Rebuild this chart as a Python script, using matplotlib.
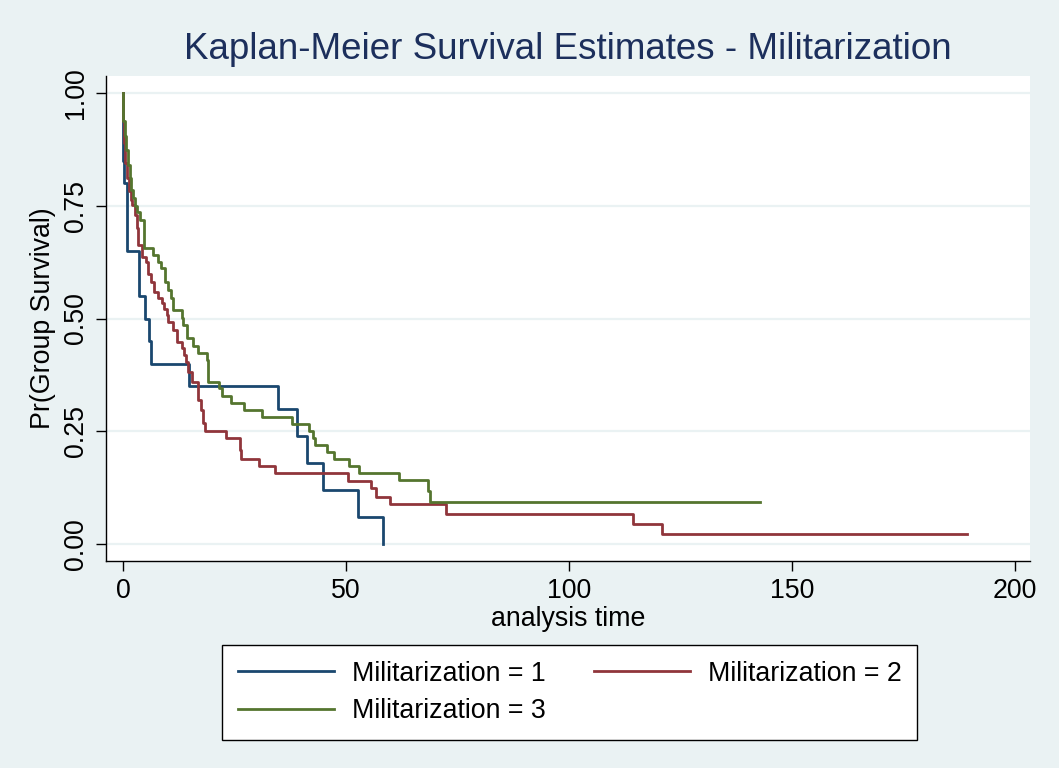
import matplotlib
matplotlib.use("Agg")
import matplotlib.pyplot as plt

# ---------------- data ----------------
title = "Kaplan-Meier Survival Estimates - Militarization"
x_label = "analysis time"
y_label = "Pr(Group Survival)"
x_ticks = [0, 50, 100, 150, 200]
y_ticks = [0.0, 0.25, 0.5, 0.75, 1.0]
y_ticklabels = ["0.00", "0.25", "0.50", "0.75", "1.00"]
labels = ["Militarization = 1", "Militarization = 2", "Militarization = 3"]

# group 1
t1 = [0, 0.1, 0.3, 0.8, 1.0, 3.65, 4.87, 5.76, 6.35, 14.7, 34.8, 39.1, 41.3, 44.8, 52.8, 58.4]
s1 = [1.0, 0.85, 0.80, 0.70, 0.65, 0.55, 0.50, 0.45, 0.40, 0.35, 0.30, 0.24, 0.18, 0.12, 0.06, 0.0]

# group 2
t2 = [0, 0.04, 0.22, 0.52, 0.90, 1.35, 1.86, 2.13, 2.69, 3.07, 3.43, 4.19, 5.16, 5.54, 6.21,
      7.02, 7.78, 8.74, 9.19, 9.80, 10.16, 11.28, 12.04, 13.16, 13.74, 14.19, 14.64, 15.40,
      16.75, 17.42, 18.00, 18.39, 23.09, 26.23, 26.46, 30.49, 34.08, 50.52, 55.54, 56.73,
      59.87, 72.42, 114.28, 120.92, 189.2]
s2 = [1.0, 0.938, 0.889, 0.845, 0.812, 0.783, 0.763, 0.752, 0.729, 0.701, 0.663, 0.636, 0.625,
      0.599, 0.581, 0.559, 0.545, 0.534, 0.521, 0.508, 0.492, 0.474, 0.448, 0.435, 0.419, 0.404,
      0.381, 0.359, 0.319, 0.297, 0.268, 0.251, 0.236, 0.208, 0.188, 0.173, 0.157, 0.140,
      0.1235, 0.105, 0.0876, 0.066, 0.0437, 0.0215, 0.0215]

# group 3
t3 = [0, 0.07, 0.52, 0.74, 1.12, 1.50, 1.86, 2.24, 2.62, 3.14, 3.81, 4.71, 6.79, 7.91, 8.41,
      9.42, 10.16, 10.70, 11.14, 13.16, 13.52, 14.42, 15.76, 16.88, 18.77, 19.13, 21.59, 22.13,
      24.15, 27.20, 31.23, 37.96, 41.77, 42.67, 43.05, 45.67, 47.38, 50.67, 52.91, 61.88,
      68.45, 68.83, 142.8]
s3 = [1.0, 0.938, 0.905, 0.874, 0.840, 0.812, 0.785, 0.767, 0.749, 0.736, 0.718, 0.656, 0.641,
      0.625, 0.612, 0.581, 0.563, 0.545, 0.518, 0.501, 0.486, 0.457, 0.439, 0.423, 0.408, 0.360,
      0.345, 0.329, 0.313, 0.297, 0.282, 0.267, 0.251, 0.234, 0.2195, 0.204, 0.188, 0.172,
      0.157, 0.142, 0.118, 0.094, 0.094]

colors = ["#1A476F", "#90353B", "#55752F"]
bg = "#EAF2F3"
title_color = "#1C2F5C"

plt.rcParams['font.family'] = ['Liberation Sans', 'DejaVu Sans']

W, H = 1059, 768
fig = plt.figure(figsize=(W / 100, H / 100), dpi=100, facecolor=bg)
ax = fig.add_axes([106 / W, 1 - 561 / H, (1030 - 106) / W, (561 - 76) / H])
ax.set_facecolor("white")

x0 = (106 - 123) / 4.46
x1 = (1030 - 123) / 4.46
ax.set_xlim(x0, x1)
ax.set_ylim((544 - 561) / 451, (544 - 76) / 451)

for yv in y_ticks:
    ax.axhline(yv, color=bg, lw=1.6, zorder=1)

handles = []
for t, s, c, lab in zip([t1, t2, t3], [s1, s2, s3], colors, labels):
    h, = ax.step(t, s, where="post", color=c, lw=2.0, zorder=3, label=lab)
    handles.append(h)

for side in ["top", "right"]:
    ax.spines[side].set_visible(False)
for side in ["left", "bottom"]:
    ax.spines[side].set_color("black")
    ax.spines[side].set_linewidth(1.0)

fs = 19.3
ax.set_xticks(x_ticks)
ax.set_xticklabels([str(v) for v in x_ticks], fontsize=fs)
ax.set_yticks(y_ticks)
ax.set_yticklabels(y_ticklabels, fontsize=fs, rotation=90, va="center")
ax.tick_params(axis="both", direction="out", length=7.5, width=1.0, color="black", pad=5)

ax.set_xlabel(x_label, fontsize=fs, labelpad=1)
ax.set_ylabel(y_label, fontsize=fs, labelpad=5)
ax.set_title(title, fontsize=26.5, color=title_color, pad=12)

order = [0, 2, 1]
leg = fig.legend([handles[i] for i in order], [labels[i] for i in order],
                 ncol=2, loc="center", bbox_to_anchor=(569.5 / W, 1 - 692.5 / H),
                 fontsize=fs, frameon=True, fancybox=False, edgecolor="black",
                 framealpha=1.0, handlelength=3.6, handletextpad=0.65, columnspacing=1.8,
                 borderpad=0.58, labelspacing=0.42)
leg.get_frame().set_linewidth(1.0)
leg.get_frame().set_facecolor("white")

fig.savefig("out.png", dpi=100, facecolor=bg)
